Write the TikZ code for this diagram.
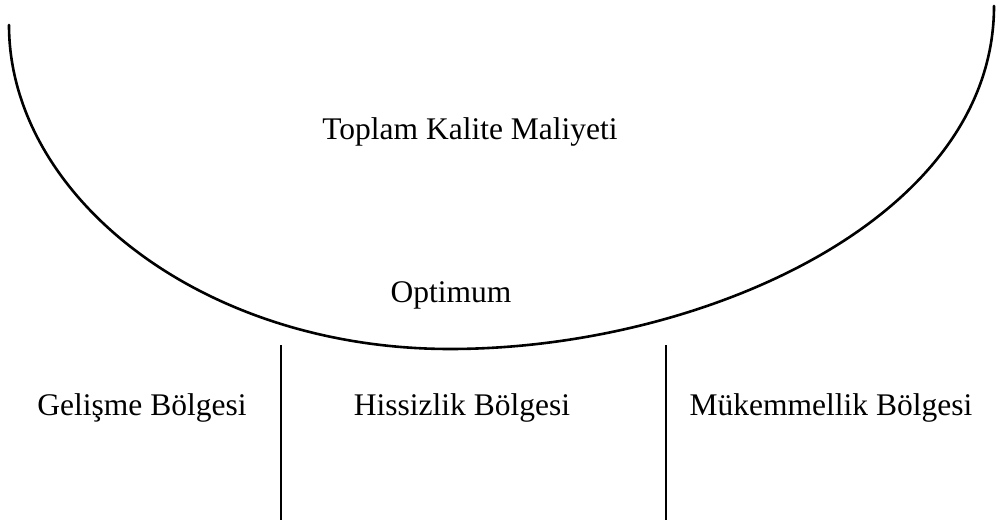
\documentclass[tikz,border=0pt]{standalone}
\usepackage{fontspec}
\setmainfont{Liberation Serif}
\begin{document}
\begin{tikzpicture}[x=1pt,y=1pt,
  lbl/.style={anchor=base,inner sep=0pt,font=\fontsize{31.5}{38}\selectfont},
  curve/.style={line width=2.6pt,line cap=round},
  divider/.style={line width=2pt}]
\useasboundingbox (0,0) rectangle (1004,520);
\coordinate (cl) at (9,495);
\coordinate (cb) at (450,171);
\coordinate (cr) at (994,514);
\draw[curve] (cl) .. controls (9,325) and (200,171) .. (cb)
                  .. controls (700,171) and (994,300) .. (cr);
\node[lbl] (toplam) at (470,380) {Toplam Kalite Maliyeti};
\node[lbl] (opt) at (451,217) {Optimum};
\node[lbl] (gel) at (142,105) {Gelişme Bölgesi};
\node[lbl] (his) at (462,105) {Hissizlik Bölgesi};
\node[lbl] (muk) at (831,105) {Mükemmellik Bölgesi};
\coordinate (l1t) at (281,175);
\coordinate (l1b) at (281,0);
\coordinate (l2t) at (666,175);
\coordinate (l2b) at (666,0);
\draw[divider] (l1t) -- (l1b);
\draw[divider] (l2t) -- (l2b);
\end{tikzpicture}
\end{document}
